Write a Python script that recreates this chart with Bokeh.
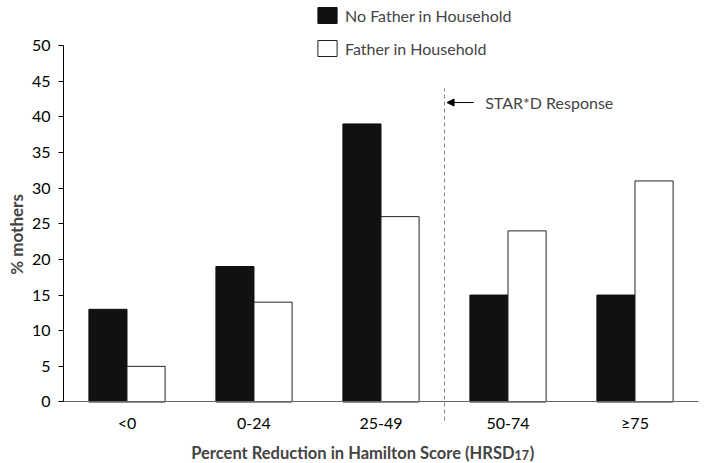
import math
from bokeh.plotting import figure
from bokeh.models import (ColumnDataSource, Range1d, FixedTicker, LinearAxis,
                          Legend, LegendItem, Label, Arrow, NormalHead)
from bokeh.transform import dodge
from bokeh.embed import file_html
from bokeh.resources import INLINE

# ---- data ----
categories = ["<0", "0-24", "25-49", "50-74", "\u226575"]
no_father = [13, 19, 39, 15, 15]
father = [5, 14, 26, 24, 31]
y_ticks = [0, 5, 10, 15, 20, 25, 30, 35, 40, 45, 50]
series_names = ["No Father in Household", "Father in Household"]
response_boundary_category = "50-74"

FONT = "Lato"
W, H = 704, 463

# category slot centres (one unit per category)
pos = [i + 0.5 for i in range(len(categories))]
src = ColumnDataSource(dict(pos=pos, cat=categories, nf=no_father, f=father))

p = figure(x_range=Range1d(-0.49606, 5.04724),
           y_range=Range1d(-8.6255, 56.311),
           width=W, height=H,
           x_axis_location=None, y_axis_location=None,
           output_backend="svg", toolbar_location=None,
           min_border_left=0, min_border_right=0,
           min_border_top=0, min_border_bottom=0)
p.outline_line_color = None
p.xgrid.visible = False
p.ygrid.visible = False
p.background_fill_color = "white"

r1 = p.vbar(x=dodge("pos", -0.15), top="nf", width=0.3,
            source=src, fill_color="#111111", line_color="#111111", line_width=1)
r2 = p.vbar(x=dodge("pos", 0.15), top="f", width=0.3,
            source=src, fill_color="white", line_color="#222222", line_width=1)

# y axis
yax = LinearAxis(fixed_location=0)
yax.ticker = FixedTicker(ticks=y_ticks)
yax.bounds = (0, 50)
yax.major_tick_out = 5
yax.major_tick_in = 0
yax.minor_tick_line_color = None
yax.axis_line_color = "black"
yax.major_tick_line_color = "black"
yax.major_label_standoff = 8
yax.major_label_text_font = FONT
yax.major_label_text_font_size = "16px"
yax.major_label_text_color = "black"
p.add_layout(yax, "left")

# x axis
xax = LinearAxis(fixed_location=0)
xax.ticker = FixedTicker(ticks=pos)
xax.major_label_overrides = {float(k): v for k, v in zip(pos, categories)}
xax.bounds = (0, len(categories))
xax.axis_line_color = "#666666"
xax.major_tick_line_color = None
xax.minor_tick_line_color = None
xax.major_label_standoff = 5
xax.major_label_text_font = FONT
xax.major_label_text_font_size = "16px"
xax.major_label_text_color = "black"
p.add_layout(xax, "below")

# response cutoff dashed line (boundary before the 50-74 slot)
bx = categories.index(response_boundary_category)
p.segment(x0=[bx], x1=[bx], y0=[-2.6], y1=[44.0], line_color="#888888",
          line_dash="4 3", line_width=1)

p.add_layout(Arrow(end=NormalHead(size=7, fill_color="black", line_color="black"),
                   x_start=3.23, y_start=42.0, x_end=3.02, y_end=42.0,
                   line_color="black", line_width=1))
p.add_layout(Label(x=3.32, y=42.0, text="STAR*D Response", text_font=FONT,
                   text_font_size="16px", text_baseline="middle", text_align="left"))

# legend
legend = Legend(items=[LegendItem(label=series_names[0], renderers=[r1]),
                       LegendItem(label=series_names[1], renderers=[r2])],
                location=(315, 405), orientation="vertical",
                glyph_width=24, glyph_height=20, label_height=20,
                spacing=13, padding=0, margin=0, label_standoff=6,
                border_line_color=None, background_fill_alpha=0,
                label_text_font=FONT, label_text_font_size="16px",
                label_text_baseline="middle")
p.add_layout(legend)

# axis titles
p.add_layout(Label(x=-0.37, y=23.5, angle=math.pi / 2, text="% mothers",
                   text_font=FONT, text_font_style="bold", text_font_size="17px",
                   text_align="center", text_baseline="middle"))
p.add_layout(Label(x=3.551, y=-7.1, text="Percent Reduction in Hamilton Score (HRSD",
                   text_font=FONT, text_font_style="bold", text_font_size="16.5px",
                   text_align="right", text_baseline="alphabetic"))
p.add_layout(Label(x=3.551, y=-7.45, text="17",
                   text_font=FONT, text_font_style="bold", text_font_size="12.5px",
                   text_align="left", text_baseline="alphabetic"))
p.add_layout(Label(x=3.672, y=-7.1, text=")",
                   text_font=FONT, text_font_style="bold", text_font_size="16.5px",
                   text_align="left", text_baseline="alphabetic"))

open("out.html", "w").write(file_html(p, INLINE))
